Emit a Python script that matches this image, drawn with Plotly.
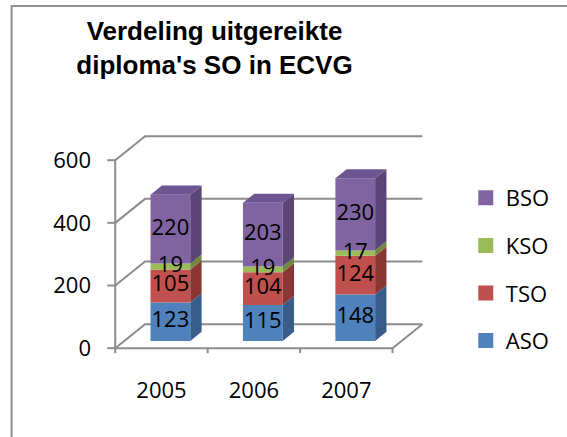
import plotly.graph_objects as go

# ---------------- data ----------------
years = ["2005", "2006", "2007"]
series_names = ["ASO", "TSO", "KSO", "BSO"]
aso = [123, 115, 148]
tso = [105, 104, 124]
kso = [19, 19, 17]
bso = [220, 203, 230]
y_ticks = [0, 200, 400, 600]
y_tick_labels = ["0", "200", "400", "600"]

series_values = [aso, tso, kso, bso]

# ---------------- styles ----------------
front_colors = ["#4F81BD", "#C0504D", "#9BBB59", "#8064A2"]
side_colors = ["#385D8A", "#8A3734", "#71893F", "#5B4677"]
top_color = "#6C5590"
line_color = "#8C8C8C"
label_font = "Open Sans"

W, H = 567, 437
ML, MR, MT, MB = 106, 136, 129, 81
PW = W - ML - MR
PH = H - MT - MB
SX = 93.0      # px per category
SY = 0.3133    # px per value unit
x_range = [-0.6, -0.6 + PW / SX]
y_range = [-25, -25 + PH / SY]

WALL_DX = 30 / SX
WALL_DY = 24 / SY
D1, D2 = 0.30, 0.68          # front / back depth of the bars
BAR_W = 40 / SX
n = len(years)
cats = list(range(n))

fig = go.Figure()

# ---- walls / gridlines as shapes below traces ----
def seg(pts):
    return "M " + " L ".join(f"{x},{y}" for x, y in pts)

shapes = []
x_left, x_right = -0.5, n - 0.5
for v in y_ticks:
    shapes.append(dict(type="path", xref="x", yref="y", layer="below",
                       path=seg([(x_left, v), (x_left + WALL_DX, v + WALL_DY),
                                 (x_right + WALL_DX, v + WALL_DY)]),
                       line=dict(color=line_color, width=2)))
    # y tick marks
    shapes.append(dict(type="path", xref="x", yref="y", layer="below",
                       path=seg([(x_left - 8 / SX, v), (x_left, v)]),
                       line=dict(color=line_color, width=2)))
# floor front edge + right diagonal
shapes.append(dict(type="path", xref="x", yref="y", layer="below",
                   path=seg([(x_left, 0), (x_right, 0), (x_right + WALL_DX, WALL_DY)]),
                   line=dict(color=line_color, width=2)))
# front vertical axis
shapes.append(dict(type="path", xref="x", yref="y", layer="below",
                   path=seg([(x_left, 0), (x_left, y_ticks[-1])]),
                   line=dict(color=line_color, width=2)))
# x tick marks at category boundaries
for b in [c - 0.5 for c in cats] + [n - 0.5]:
    shapes.append(dict(type="path", xref="x", yref="y", layer="below",
                       path=seg([(b, 0), (b, -5 / SY)]),
                       line=dict(color=line_color, width=2)))

# outer chart border
def px2paper_x(px):
    return (px - ML) / PW

def px2paper_y(py):
    return (H - MB - py) / PH

shapes.append(dict(type="rect", xref="paper", yref="paper", layer="below",
                   x0=px2paper_x(11), x1=px2paper_x(620),
                   y0=px2paper_y(480), y1=px2paper_y(6),
                   line=dict(color="#8E8E8E", width=2), fillcolor="rgba(0,0,0,0)"))

# ---- bars ----
fx = [c + D1 * WALL_DX for c in cats]
base_off = D1 * WALL_DY
ddx = (D2 - D1) * WALL_DX
ddy = (D2 - D1) * WALL_DY

cum = [0.0] * n
for s, (name, vals) in enumerate(zip(series_names, series_values)):
    bases = [cum[i] + base_off for i in range(n)]
    fig.add_trace(go.Bar(
        x=fx, y=vals, base=bases, width=BAR_W,
        marker=dict(color=front_colors[s], line=dict(width=0)),
        showlegend=False, hoverinfo="skip", name=name))
    # side faces
    sx, sy = [], []
    for i in range(n):
        xr_ = fx[i] + BAR_W / 2
        b = bases[i]
        t = bases[i] + vals[i]
        sx += [xr_, xr_ + ddx, xr_ + ddx, xr_, xr_, None]
        sy += [b, b + ddy, t + ddy, t, b, None]
    fig.add_trace(go.Scatter(x=sx, y=sy, mode="lines", fill="toself",
                             fillcolor=side_colors[s], line=dict(width=0),
                             showlegend=False, hoverinfo="skip"))
    cum = [cum[i] + vals[i] for i in range(n)]

# top faces
tx, ty = [], []
for i in range(n):
    xl_ = fx[i] - BAR_W / 2
    xr_ = fx[i] + BAR_W / 2
    t = cum[i] + base_off
    tx += [xl_, xr_, xr_ + ddx, xl_ + ddx, xl_, None]
    ty += [t, t, t + ddy, t + ddy, t, None]
fig.add_trace(go.Scatter(x=tx, y=ty, mode="lines", fill="toself",
                         fillcolor=top_color, line=dict(width=0),
                         showlegend=False, hoverinfo="skip"))

# data labels
cum = [0.0] * n
for s, vals in enumerate(series_values):
    mids = [cum[i] + vals[i] / 2 + base_off for i in range(n)]
    fig.add_trace(go.Scatter(x=fx, y=mids, mode="text",
                             text=[str(v) for v in vals],
                             textfont=dict(family=label_font, size=22, color="black"),
                             cliponaxis=False, showlegend=False, hoverinfo="skip"))
    cum = [cum[i] + vals[i] for i in range(n)]

# legend entries (top to bottom: BSO, KSO, TSO, ASO)
for s in reversed(range(len(series_names))):
    fig.add_trace(go.Scatter(x=[None], y=[None], mode="markers",
                             marker=dict(symbol="square", size=15, color=front_colors[s]),
                             name=series_names[s], legendgroup=series_names[s]))

fig.update_layout(
    width=W, height=H,
    margin=dict(l=ML, r=MR, t=MT, b=MB),
    paper_bgcolor="white", plot_bgcolor="white",
    barmode="overlay",
    title=dict(text="<b>Verdeling uitgereikte<br>diploma's SO in ECVG</b>",
               font=dict(family="Liberation Sans, Arial", size=26, color="black"),
               x=214.5 / W, xref="container", xanchor="center",
               y=1 - 40 / H, yref="container", yanchor="top"),
    xaxis=dict(range=x_range, tickvals=cats, ticktext=years,
               showgrid=False, zeroline=False, showline=False, ticks="",
               tickfont=dict(family=label_font, size=22, color="black"),
               ticklabelstandoff=19, fixedrange=True),
    yaxis=dict(range=y_range, tickvals=y_ticks, ticktext=y_tick_labels,
               showgrid=False, zeroline=False, showline=False, ticks="",
               tickfont=dict(family=label_font, size=22, color="black"),
               ticklabelstandoff=14, fixedrange=True),
    legend=dict(x=px2paper_x(468), xanchor="left", y=px2paper_y(177), yanchor="top",
                font=dict(family=label_font, size=22, color="black"),
                tracegroupgap=16, traceorder="grouped", bgcolor="rgba(0,0,0,0)"),
    shapes=shapes,
)

fig.write_html("out.html",
               config={"displayModeBar": False},
               post_script="document.body.style.margin='0';document.body.style.overflow='hidden';")
